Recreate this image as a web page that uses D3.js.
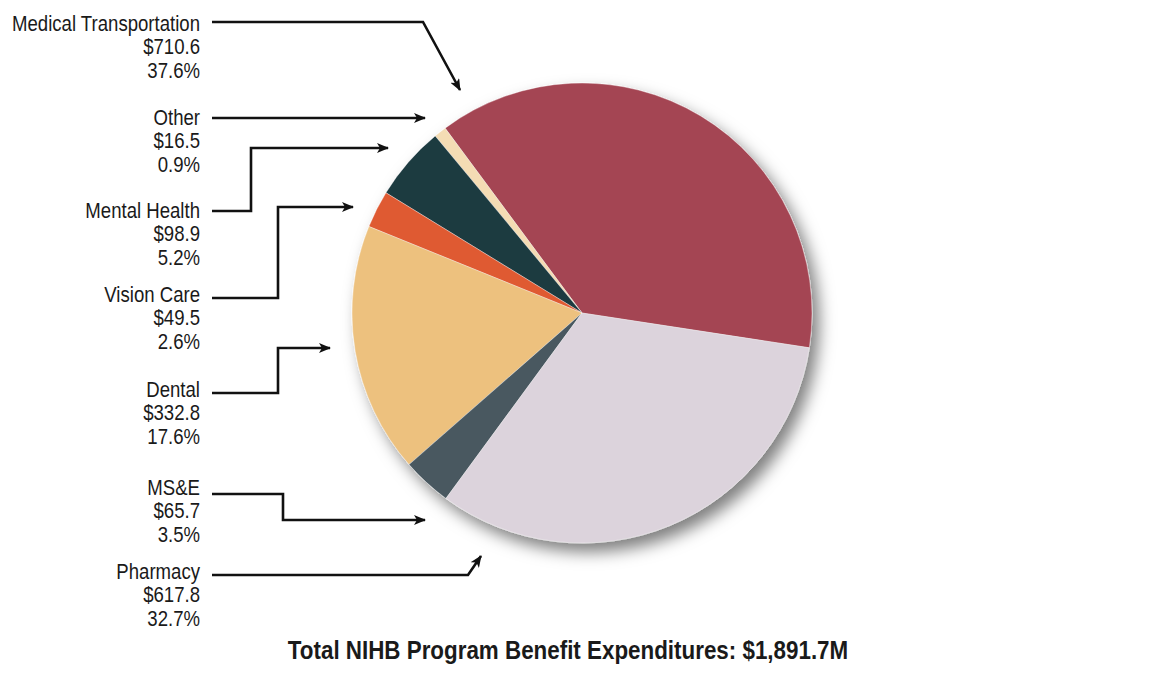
<!DOCTYPE html>
<html>
<head>
<meta charset="utf-8">
<script src="https://cdn.jsdelivr.net/npm/d3@7/dist/d3.min.js"></script>
<style>
  body { margin: 0; background: #fff; }
  text { font-family: 'Liberation Sans', Arial, sans-serif; fill: #1a1a1a; }
</style>
</head>
<body>
<div id="chart"></div>
<script>
// label order, top to bottom (= counter-clockwise round the pie)
const categories = ['Medical Transportation', 'Other', 'Mental Health', 'Vision Care', 'Dental', 'MS&E', 'Pharmacy'];
const amounts = [710.6, 16.5, 98.9, 49.5, 332.8, 65.7, 617.8];
const percents = [37.6, 0.9, 5.2, 2.6, 17.6, 3.5, 32.7];
const colors = ['#a44553', '#f4dcb4', '#1d3a41', '#df5a33', '#edc17e', '#4a5961', '#dcd3dc'];
const totalLabel = 'Total NIHB Program Benefit Expenditures: $1,891.7M';

const width = 1170, height = 677;
const cx = 582, cy = 313, radius = 230;
const narrow = 0.845; // squeeze Liberation Sans into a condensed look
const rad = deg => deg * Math.PI / 180;

// label block baselines and leader-line waypoints (layout only)
const labelTop = [31, 125, 218, 302, 397, 495, 579];
const leaders = [
  [[212, 22], [423, 22], [460, 90]],
  [[212, 118], [425, 118]],
  [[212, 211], [251, 211], [251, 148], [388, 148]],
  [[212, 298], [278, 298], [278, 207], [353, 207]],
  [[212, 393], [278, 393], [278, 348], [330, 348]],
  [[212, 494], [283, 494], [283, 520], [425, 520]],
  [[212, 575], [468, 575], [481, 556]]
];

const svg = d3.select('#chart').append('svg')
  .attr('width', width)
  .attr('height', height);

const defs = svg.append('defs');
const shadow = defs.append('filter').attr('id', 'shadow')
  .attr('x', '-20%').attr('y', '-20%').attr('width', '140%').attr('height', '140%');
shadow.append('feDropShadow')
  .attr('dx', 7).attr('dy', 9)
  .attr('stdDeviation', 8)
  .attr('flood-color', '#000')
  .attr('flood-opacity', 0.5);

defs.append('marker')
  .attr('id', 'arrow')
  .attr('viewBox', '0 0 12 10')
  .attr('refX', 11).attr('refY', 5)
  .attr('markerWidth', 12).attr('markerHeight', 10)
  .attr('markerUnits', 'userSpaceOnUse')
  .attr('orient', 'auto')
  .append('path')
    .attr('d', 'M0,0 L12,5 L0,10 L3,5 Z')
    .attr('fill', '#111');

// pie, drawn counter-clockwise from the Medical / Pharmacy boundary
const start = rad(98.7);
const pie = d3.pie().sort(null).value(d => d)
  .startAngle(start)
  .endAngle(start - 2 * Math.PI);
const arc = d3.arc().innerRadius(0).outerRadius(radius);

const g = svg.append('g')
  .attr('transform', `translate(${cx},${cy})`)
  .attr('filter', 'url(#shadow)');

g.selectAll('path')
  .data(pie(amounts))
  .join('path')
    .attr('d', arc)
    .attr('fill', (d, i) => colors[i])
    .attr('stroke', '#fff')
    .attr('stroke-width', 0.6)
    .attr('stroke-opacity', 0.6);

// labels
const line = d3.line();
const labels = svg.append('g');
categories.forEach((name, i) => {
  const t = labels.append('text')
    .attr('transform', `translate(200,0) scale(${narrow},1)`)
    .attr('text-anchor', 'end')
    .attr('font-size', 22);
  [name, `$${amounts[i].toFixed(1)}`, `${percents[i].toFixed(1)}%`].forEach((s, j) => {
    t.append('tspan')
      .attr('x', 0)
      .attr('y', labelTop[i] + j * 23.5)
      .text(s);
  });

  labels.append('path')
    .attr('d', line(leaders[i]))
    .attr('fill', 'none')
    .attr('stroke', '#111')
    .attr('stroke-width', 2.6)
    .attr('marker-end', 'url(#arrow)');
});

svg.append('text')
  .attr('transform', `translate(568,659) scale(${narrow},1)`)
  .attr('text-anchor', 'middle')
  .attr('font-size', 26.5)
  .attr('font-weight', 'bold')
  .text(totalLabel);
</script>
</body>
</html>
